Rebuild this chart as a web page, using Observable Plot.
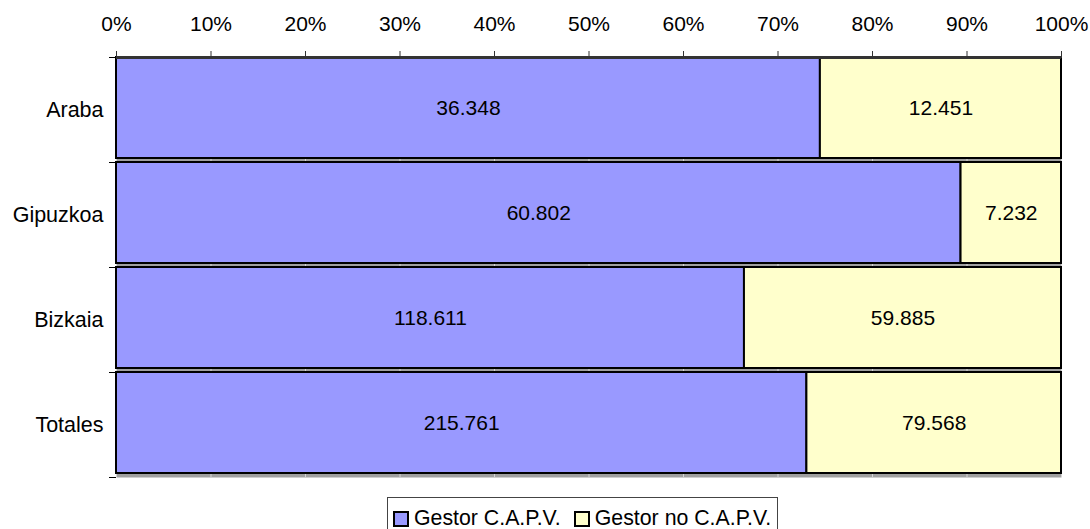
<!DOCTYPE html>
<html><head><meta charset="utf-8">
<script src="https://cdn.jsdelivr.net/npm/d3@7"></script>
<script src="https://cdn.jsdelivr.net/npm/@observablehq/plot@0.6"></script>
<style>
body{margin:0;background:#fff;font-family:"Liberation Sans",Arial,sans-serif;}
#legend{position:relative;height:34px;}
#legend .box{position:absolute;left:387px;top:2px;border:1px solid #444;border-bottom:none;display:flex;align-items:center;padding:8px 6px 8px 5px;font-size:21.3px;color:#000;white-space:nowrap;}
#legend .item{display:flex;align-items:center;margin-right:13px;}
#legend .item:last-child{margin-right:0;}
#legend .sw{width:12px;height:12px;border:2px solid #000;margin-right:5px;}
</style></head><body>
<div id="chart"></div><div id="legend"></div>
<script>
const regions = ["Araba", "Gipuzkoa", "Bizkaia", "Totales"];
const gestorCAPV = [36348, 60802, 118611, 215761];
const gestorNoCAPV = [12451, 7232, 59885, 79568];
const seriesNames = ["Gestor C.A.P.V.", "Gestor no C.A.P.V."];
const seriesColors = ["#9999ff", "#ffffcc"];
const xTicks = [0, 0.1, 0.2, 0.3, 0.4, 0.5, 0.6, 0.7, 0.8, 0.9, 1];
const xTickLabels = ["0%", "10%", "20%", "30%", "40%", "50%", "60%", "70%", "80%", "90%", "100%"];

const rows = regions.flatMap((r, i) => [
  {region: r, serie: seriesNames[0], value: gestorCAPV[i]},
  {region: r, serie: seriesNames[1], value: gestorNoCAPV[i]}
]);
const fmt = d3.formatLocale({decimal: ",", thousands: ".", grouping: [3], currency: ["", "€"]}).format(",");

const W = 1090, H = 495, mT = 57, mB = 18;
const half = (H - mT - mB) / regions.length / 2;

const chart = Plot.plot({
  width: W, height: H,
  marginLeft: 116, marginRight: 29, marginTop: mT, marginBottom: mB,
  style: {fontFamily: "Liberation Sans, Arial, sans-serif", fontSize: "21px", color: "#000", background: "#fff"},
  x: {domain: [0, 1], label: null},
  y: {domain: regions, padding: 0, label: null},
  color: {domain: seriesNames, range: seriesColors},
  marks: [
    Plot.frame({fill: "#a0a0a0", stroke: null}),
    Plot.gridX(xTicks, {stroke: "#d4d4d4", strokeOpacity: 1}),
    Plot.barX(rows, Plot.stackX({offset: "normalize", order: seriesNames, x: "value", y: "region", z: "serie", fill: "serie", stroke: "#000", strokeWidth: 2, insetBottom: 4})),
    Plot.text(rows, Plot.stackX({offset: "normalize", order: seriesNames, x: "value", y: "region", z: "serie", text: d => fmt(d.value), fill: "#000", dy: -2, fontSize: 21})),
    Plot.ruleY([regions[0]], {y: d => d, x1: 0, x2: 1, dy: -half, stroke: "#333", strokeWidth: 3}),
    Plot.axisX(xTicks, {anchor: "top", label: null, tickFormat: (d, i) => xTickLabels[i], tickSize: 7, tickPadding: 20, stroke: "#333", fontSize: 21}),
    Plot.axisY({label: null, tickSize: 0, tickPadding: 13, fontSize: 21.5}),
    Plot.ruleY(regions, {y: d => d, x1: 0, x2: 0, insetLeft: -7, dy: half, stroke: "#000"}),
    Plot.ruleY([regions[0]], {y: d => d, x1: 0, x2: 0, insetLeft: -7, dy: -half, stroke: "#000"})
  ]
});
document.getElementById("chart").append(chart);

const box = document.createElement("div");
box.className = "box";
seriesNames.forEach((s, i) => {
  const it = document.createElement("div");
  it.className = "item";
  const sw = document.createElement("span");
  sw.className = "sw";
  sw.style.background = seriesColors[i];
  const t = document.createElement("span");
  t.textContent = s;
  it.append(sw, t);
  box.append(it);
});
document.getElementById("legend").append(box);
</script>
</body></html>
